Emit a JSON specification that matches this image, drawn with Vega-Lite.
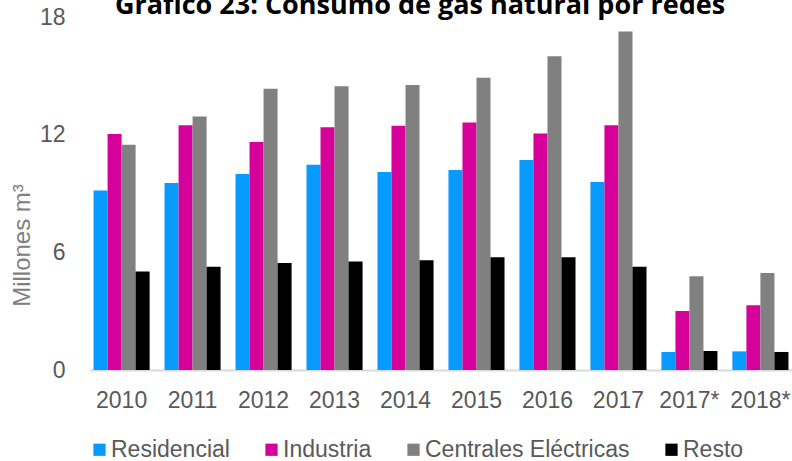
{
  "$schema": "https://vega.github.io/schema/vega-lite/v6.json",
  "width": 702,
  "height": 353,
  "autosize": "none",
  "padding": {"left": 90, "top": 17, "right": 0, "bottom": 91},
  "background": "white",
  "title": {
    "text": "Gráfico 23: Consumo de gas natural por redes",
    "font": "Open Sans",
    "fontSize": 27,
    "fontWeight": "bold",
    "color": "#000000",
    "anchor": "middle",
    "dx": -21,
    "baseline": "alphabetic",
    "offset": -35
  },
  "config": {
    "view": {"stroke": null},
    "font": "Liberation Sans"
  },
  "data": {
    "values": [
      {"year": "2010", "serie": "Residencial", "value": 9.15},
      {"year": "2010", "serie": "Industria", "value": 12.03},
      {"year": "2010", "serie": "Centrales Eléctricas", "value": 11.49},
      {"year": "2010", "serie": "Resto", "value": 5.02},
      {"year": "2011", "serie": "Residencial", "value": 9.53},
      {"year": "2011", "serie": "Industria", "value": 12.48},
      {"year": "2011", "serie": "Centrales Eléctricas", "value": 12.92},
      {"year": "2011", "serie": "Resto", "value": 5.27},
      {"year": "2012", "serie": "Residencial", "value": 10.0},
      {"year": "2012", "serie": "Industria", "value": 11.63},
      {"year": "2012", "serie": "Centrales Eléctricas", "value": 14.34},
      {"year": "2012", "serie": "Resto", "value": 5.46},
      {"year": "2013", "serie": "Residencial", "value": 10.46},
      {"year": "2013", "serie": "Industria", "value": 12.38},
      {"year": "2013", "serie": "Centrales Eléctricas", "value": 14.47},
      {"year": "2013", "serie": "Resto", "value": 5.53},
      {"year": "2014", "serie": "Residencial", "value": 10.09},
      {"year": "2014", "serie": "Industria", "value": 12.45},
      {"year": "2014", "serie": "Centrales Eléctricas", "value": 14.53},
      {"year": "2014", "serie": "Resto", "value": 5.6},
      {"year": "2015", "serie": "Residencial", "value": 10.2},
      {"year": "2015", "serie": "Industria", "value": 12.62},
      {"year": "2015", "serie": "Centrales Eléctricas", "value": 14.9},
      {"year": "2015", "serie": "Resto", "value": 5.75},
      {"year": "2016", "serie": "Residencial", "value": 10.71},
      {"year": "2016", "serie": "Industria", "value": 12.06},
      {"year": "2016", "serie": "Centrales Eléctricas", "value": 16.0},
      {"year": "2016", "serie": "Resto", "value": 5.75},
      {"year": "2017", "serie": "Residencial", "value": 9.59},
      {"year": "2017", "serie": "Industria", "value": 12.48},
      {"year": "2017", "serie": "Centrales Eléctricas", "value": 17.26},
      {"year": "2017", "serie": "Resto", "value": 5.26},
      {"year": "2017*", "serie": "Residencial", "value": 0.92},
      {"year": "2017*", "serie": "Industria", "value": 3.01},
      {"year": "2017*", "serie": "Centrales Eléctricas", "value": 4.78},
      {"year": "2017*", "serie": "Resto", "value": 0.97},
      {"year": "2018*", "serie": "Residencial", "value": 0.95},
      {"year": "2018*", "serie": "Industria", "value": 3.3},
      {"year": "2018*", "serie": "Centrales Eléctricas", "value": 4.95},
      {"year": "2018*", "serie": "Resto", "value": 0.92}
    ]
  },
  "mark": {"type": "bar"},
  "encoding": {
    "x": {
      "field": "year",
      "type": "nominal",
      "sort": null,
      "scale": {"paddingInner": 0.21, "paddingOuter": 0.05},
      "axis": {
        "title": null,
        "labelAngle": 0,
        "labelFont": "Liberation Sans",
        "labelFontSize": 23,
        "labelColor": "#595959",
        "labelPadding": 19,
        "ticks": false,
        "domainColor": "#d9d9d9",
        "domainWidth": 2
      }
    },
    "xOffset": {
      "field": "serie",
      "type": "nominal",
      "sort": ["Residencial", "Industria", "Centrales Eléctricas", "Resto"],
      "scale": {"paddingInner": 0, "paddingOuter": 0}
    },
    "y": {
      "field": "value",
      "type": "quantitative",
      "scale": {"domain": [0, 18], "nice": false},
      "axis": {
        "values": [0, 6, 12, 18],
        "grid": false,
        "domain": false,
        "ticks": false,
        "labelFont": "Liberation Sans",
        "labelFontSize": 23,
        "labelColor": "#595959",
        "labelPadding": 25,
        "title": "Millones m³",
        "titleFont": "Liberation Sans",
        "titleFontSize": 24,
        "titleFontWeight": "normal",
        "titleColor": "#808080",
        "titleAngle": -90,
        "titleX": -68,
        "titleY": 228,
        "titleAlign": "center",
        "titleBaseline": "middle"
      }
    },
    "color": {
      "field": "serie",
      "type": "nominal",
      "sort": ["Residencial", "Industria", "Centrales Eléctricas", "Resto"],
      "scale": {
        "domain": ["Residencial", "Industria", "Centrales Eléctricas", "Resto"],
        "range": ["#079BFF", "#D6009A", "#808080", "#000000"]
      },
      "legend": {
        "title": null,
        "orient": "none",
        "direction": "horizontal",
        "legendX": -2,
        "legendY": 421,
        "padding": 0,
        "symbolType": "square",
        "symbolSize": 150,
        "symbolStrokeWidth": 0,
        "labelFont": "Liberation Sans",
        "labelFontSize": 23,
        "labelColor": "#595959",
        "labelOffset": 0,
        "labelLimit": 400,
        "columnPadding": 30
      }
    }
  }
}
